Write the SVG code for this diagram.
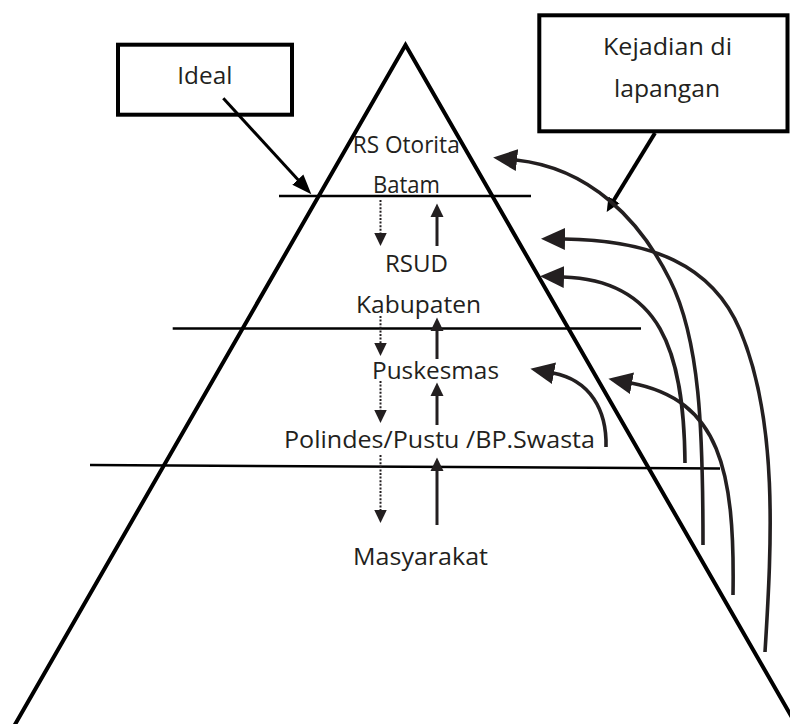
<svg xmlns="http://www.w3.org/2000/svg" width="790" height="724" viewBox="0 0 790 724">
<style>
  .t { font-family: "Open Sans", "Noto Sans", "Liberation Sans", sans-serif; font-size: 24px; fill: #231f20; }
  .box { fill: #fff; stroke: #000; stroke-width: 4; }
  .hl { stroke: #000; stroke-width: 2.5; fill: none; }
  .tri { stroke: #000; stroke-width: 4; fill: none; stroke-linejoin: miter; }
  .dot { stroke: #231f20; stroke-width: 2; stroke-dasharray: 2 1.6; fill: none; marker-end: url(#ahs); }
  .up { stroke: #231f20; stroke-width: 3; fill: none; marker-end: url(#ahs); }
  .cv { stroke: #231f20; stroke-width: 3.6; fill: none; marker-end: url(#ahb); }
</style>
<defs>
  <marker id="ahs" markerUnits="userSpaceOnUse" viewBox="0 -7 14 14" markerWidth="14" markerHeight="14" refX="0.5" refY="0" orient="auto">
    <path d="M0,-6.5 L13.5,0 L0,6.5 Z" fill="#231f20"/>
  </marker>
  <marker id="ahb" markerUnits="userSpaceOnUse" viewBox="0 -12 25 24" markerWidth="25" markerHeight="24" refX="1" refY="0" orient="auto">
    <path d="M0,-11 L24,0 L0,11 Z" fill="#231f20"/>
  </marker>
  <marker id="ahi" markerUnits="userSpaceOnUse" viewBox="0 -8 21 16" markerWidth="21" markerHeight="16" refX="1" refY="0" orient="auto">
    <path d="M0,-7.5 L20,0 L0,7.5 Z" fill="#000"/>
  </marker>
  <marker id="ahk" markerUnits="userSpaceOnUse" viewBox="0 -7 15 14" markerWidth="15" markerHeight="14" refX="1" refY="0" orient="auto">
    <path d="M0,-6.5 L14,0 L0,6.5 Z" fill="#000"/>
  </marker>
</defs>

<g id="pyramid">
  <polyline class="tri" points="13,728 405.5,45 798,728"/>
  <line class="hl" x1="279" y1="196" x2="531" y2="196"/>
  <line class="hl" x1="172.7" y1="328.5" x2="641" y2="328.5"/>
  <line class="hl" x1="90" y1="465" x2="720" y2="468.5"/>
</g>

<g id="node-ideal">
  <rect class="box" x="118" y="44.7" width="174" height="70"/>
  <text class="t" x="177.3" y="84" textLength="55" lengthAdjust="spacingAndGlyphs">Ideal</text>
</g>

<g id="node-kejadian">
  <rect class="box" x="539.3" y="15.3" width="248.2" height="116"/>
  <text class="t" x="603" y="55" textLength="129" lengthAdjust="spacingAndGlyphs">Kejadian di</text>
  <text class="t" x="614" y="96.5" textLength="106" lengthAdjust="spacingAndGlyphs">lapangan</text>
</g>

<g id="node-rs-otorita">
  <text class="t" x="352.7" y="153" textLength="107" lengthAdjust="spacingAndGlyphs">RS Otorita</text>
  <text class="t" x="373" y="192.7" textLength="67" lengthAdjust="spacingAndGlyphs">Batam</text>
</g>
<g id="node-rsud">
  <text class="t" x="385" y="271.7" textLength="63" lengthAdjust="spacingAndGlyphs">RSUD</text>
  <text class="t" x="356" y="313" textLength="125" lengthAdjust="spacingAndGlyphs">Kabupaten</text>
</g>
<g id="node-puskesmas">
  <text class="t" x="372" y="379" textLength="127" lengthAdjust="spacingAndGlyphs">Puskesmas</text>
</g>
<g id="node-polindes">
  <text class="t" x="284" y="447.5" textLength="311" lengthAdjust="spacingAndGlyphs">Polindes/Pustu /BP.Swasta</text>
</g>
<g id="node-masyarakat">
  <text class="t" x="353" y="565" textLength="135" lengthAdjust="spacingAndGlyphs">Masyarakat</text>
</g>

<g id="connectors">
  <!-- label arrows -->
  <line x1="223.3" y1="98.3" x2="298.5" y2="180.3" stroke="#000" stroke-width="3" marker-end="url(#ahi)"/>
  <line x1="655" y1="133" x2="613.5" y2="200.8" stroke="#000" stroke-width="4" marker-end="url(#ahk)"/>

  <!-- referral (down, dotted) -->
  <line class="dot" x1="380.5" y1="200" x2="380.5" y2="233"/>
  <line class="dot" x1="380.5" y1="316" x2="380.5" y2="343"/>
  <line class="dot" x1="380.5" y1="381" x2="380.5" y2="410"/>
  <line class="dot" x1="380.5" y1="455" x2="380.5" y2="510"/>

  <!-- referral (up, solid) -->
  <line class="up" x1="437" y1="246" x2="437" y2="216.5"/>
  <line class="up" x1="437" y1="359" x2="437" y2="330.5"/>
  <line class="up" x1="437" y1="425" x2="437" y2="395.5"/>
  <line class="up" x1="437" y1="525" x2="437" y2="470.5"/>

  <!-- field bypass curves -->
  <path class="cv" d="M703,545 C703,430 700,340 670,280 C640,220 590,168 516,160"/>
  <path class="cv" d="M765,652 C772,540 778,420 740,330 C712,264 650,240 564,239"/>
  <path class="cv" d="M685,463 C684,350 660,280 563,277"/>
  <path class="cv" d="M606,447 C607,410 590,380 553,373"/>
  <path class="cv" d="M733,595 C735,470 720,400 631,383"/>
</g>
</svg>
